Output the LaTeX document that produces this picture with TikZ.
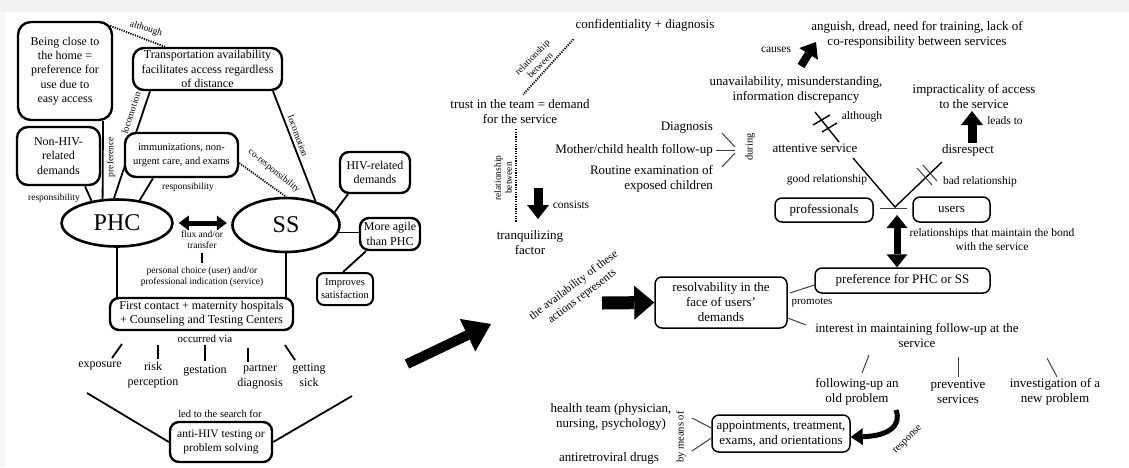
\documentclass[tikz,border=0pt]{standalone}
\usepackage{fontspec}
\setmainfont{Liberation Serif}
\usetikzlibrary{arrows.meta,shapes.geometric,calc}
\pgfdeclarelayer{bg}
\pgfsetlayers{bg,main}
\newcommand\myfs[2]{\fontsize{#1}{#2}\selectfont}
\begin{document}
\begin{tikzpicture}[x=1pt,y=-1pt,
  every node/.style={inner sep=0pt,align=center,font=\myfs{12}{14.3}},
  bx/.style={draw,fill=white,line width=2.4pt,rounded corners=9pt,inner sep=1pt},
  rbx/.style={draw,fill=white,line width=1.5pt,rounded corners=7pt,inner sep=1pt,font=\myfs{13}{15}},
  oval/.style={draw,fill=white,ellipse,line width=2.6pt,font=\myfs{24}{24}},
  sm/.style={font=\myfs{9.5}{11}},
  lb/.style={font=\myfs{11.5}{13}},
  rt/.style={font=\myfs{13}{15}},
  ln/.style={line width=1.8pt},
  lnr/.style={line width=1.4pt},
  thn/.style={line width=1pt,black!75},
  dotl/.style={line width=1.8pt,dash pattern=on 1.2pt off 1.2pt},
  dbl/.style={line width=5pt,{Triangle[length=10pt,width=15pt,line width=0pt]}-{Triangle[length=10pt,width=15pt,line width=0pt]}},
  dblv/.style={line width=7pt,{Triangle[length=13pt,width=21pt,line width=0pt]}-{Triangle[length=13pt,width=21pt,line width=0pt]}},
  medarr/.style={line width=9pt,-{Triangle[length=14pt,width=22pt,line width=0pt]}},
  fatarr/.style={line width=13pt,-{Triangle[length=20pt,width=34pt,line width=0pt]}},
  bigarr/.style={line width=10pt,-{Triangle[length=26pt,width=36pt,line width=0pt]}},
  resparr/.style={line width=5pt,-{Triangle[length=12pt,width=17pt,line width=0pt]}},
]
\useasboundingbox (0,0) rectangle (1129,467);

% ================= LEFT PART =================
\node[bx,minimum width=94pt,minimum height=98pt,rounded corners=13pt] (close) at (65,71) {Being close to\\the home =\\preference for\\use due to\\easy access};
\node[bx,minimum width=149pt,minimum height=42pt,rounded corners=11pt] (transp) at (207.5,69) {Transportation availability\\facilitates access regardless\\of distance};
\node[bx,minimum width=83pt,minimum height=58pt,rounded corners=11pt] (nonhiv) at (58.5,156) {Non-HIV-\\related\\demands};
\node[bx,minimum width=113pt,minimum height=44pt,rounded corners=11pt,font=\myfs{10.5}{13.5}] (immun) at (181.5,155) {immunizations, non-\\urgent care, and exams};
\node[oval,minimum width=111pt,minimum height=47pt] (phc) at (117,223) {PHC};
\node[oval,minimum width=107pt,minimum height=54pt] (ss) at (286,225) {SS};
\node[bx,minimum width=70pt,minimum height=41pt] (hiv) at (375,172.5) {HIV-related\\demands};
\node[bx,minimum width=60pt,minimum height=32pt] (agile) at (390,234) {More agile\\than PHC};
\node[bx,minimum width=56pt,minimum height=32pt,line width=2pt,rounded corners=7pt,font=\myfs{10.5}{13}] (impr) at (345,289) {Improves\\satisfaction};
\node[bx,minimum width=183pt,minimum height=32pt,font=\myfs{12}{14}] (first) at (201.5,314) {First contact + maternity hospitals\\+ Counseling and Testing Centers};
\node[bx,minimum width=102pt,minimum height=40pt,font=\myfs{11.5}{14}] (anti) at (221,442) {anti-HIV testing or\\problem solving};

\begin{pgfonlayer}{bg}
\fill[black!5] (0,0) rectangle (1129,12);
\fill[black!3] (0,12) rectangle (6,467);
\draw[ln] (150,0 |- transp.south) -- (phc.97);
\end{pgfonlayer}

\draw[ln] (273,0 |- transp.south) -- (ss.39);
\draw[dotl] ($(close.north east)+(-3,5)$) -- (165,0 |- transp.north);
\draw[ln] (103,0 |- close.south) -- (phc.121);
\draw[ln] (85,0 |- nonhiv.south) -- (phc.139);
\draw[ln] (153,0 |- immun.south) -- (phc.45);
\draw[dotl] (immun.east |- 0,163) -- (ss.north);
\draw[dbl] ($(phc.east)+(5,0)$) -- ($(phc.east)+(53,0)$);

\node[sm,rotate=-18] (lalth) at (146,29) {although};
\node[sm,rotate=72] (lloc1) at (131,113) {locomotion};
\node[sm,rotate=-70] (lloc2) at (298,136) {locomotion};
\node[sm,rotate=90] (lpref) at (111,157) {preference};
\node[sm] (lresp1) at (54,198) {responsibility};
\node[sm] (lresp2) at (188,187) {responsibility};
\node[sm,rotate=-39] (lcores) at (274,171) {co-responsibility};
\node[sm] (flux) at (202,240) {flux and/or\\transfer};
\node[sm] (choice) at (202,277) {personal choice (user) and/or\\professional indication (service)};
\draw[ln] ($(flux.south)+(0,4)$) -- ($(choice.north)+(0,-4)$);

\draw[ln] (phc.south) -- (phc.south |- first.north);
\draw[ln] (ss.south) -- (ss.south |- first.north);
\draw[ln] (ss.15) -- (348,0 |- hiv.south);
\draw[ln] (ss.352) -- (ss.352 -| agile.west);
\draw[ln] (366,0 |- agile.south) -- (343,0 |- impr.north);

\node[font=\myfs{11}{13}] (occ) at (205,339) {occurred via};
\node (expo) at (100,366) {exposure};
\node (risk) at (153,375) {risk\\perception};
\node (gest) at (205,371) {gestation};
\node (partner) at (260,377) {partner\\diagnosis};
\node (sick) at (309,375) {getting\\sick};
\draw[ln] (122,344) -- (112,358);
\draw[ln] (158,345) -- (158,359);
\draw[ln] (205,345) -- (205,361);
\draw[ln] (248,348) -- (248,362);
\draw[ln] (285,345) -- (295,360);
\node[font=\myfs{10.5}{12}] (led) at (220,414) {led to the search for};
\coordinate (antiL) at (87,393);
\coordinate (antiR) at (352,396);
\draw[ln] (antiL) -- (anti.west);
\draw[ln] (anti.east) -- (antiR);

% big arrow
\coordinate (bigA) at (407,364);
\coordinate (bigB) at (491,324);
\draw[bigarr] (bigA) -- (bigB);

% ================= RIGHT PART =================
\node[rt] (conf) at (645,25) {confidentiality + diagnosis};
\node[rt] (trust) at (520,112) {trust in the team = demand\\for the service};
\draw[dotl] ($(conf.south west)+(-2,8)$) -- ($(trust.north)+(3,-5)$);
\node[sm,rotate=45] (lrel1) at (536,61) {relationship\\between};
\node[rt] (tranq) at (530,243) {tranquilizing\\factor};
\draw[dotl] (516,0 |- trust.south) ++(0,5) -- (516,222);
\node[sm,rotate=90] (lrel2) at (503,178) {relationship\\between};
\draw[medarr] (538,188) -- (538,219);
\node[lb] (lcons) at (571,205) {consists};

\node[rt,anchor=east] (diag) at (713,128) {Diagnosis};
\node[rt,anchor=east] (mother) at (713,150) {Mother/child health follow-up};
\node[rt,anchor=east,align=right] (routine) at (713,179) {Routine examination of\\exposed children};
\draw[thn] (722,133) -- (735,147);
\draw[thn] (716,150) -- (735,150);
\draw[thn] (722,167) -- (735,153);
\node[font=\myfs{10.5}{12},rotate=90] (ldur) at (750,147) {during};

\node[rt] (ang) at (917,35) {anguish, dread, need for training, lack of\\co-responsibility between services};
\node[lb] (lcaus) at (776,50) {causes};
\draw[medarr,line width=8pt] (801,66) -- (816,42);
\node[rt] (unav) at (796,90) {unavailability, misunderstanding,\\information discrepancy};
\node[rt] (att) at (815,148) {attentive service};
\draw[lnr] (815,112) -- (839,142);
\draw[lnr] (813,125) -- (830,115);
\draw[lnr] (822,132) -- (837,123);
\node[lb] (lalth2) at (862,117) {although};
\node[rt] (imp) at (974,96) {impracticality of access\\to the service};
\node[rt] (dis) at (968,150) {disrespect};
\draw[medarr] (972,143) -- (972,111);
\node[lb] (llead) at (1005,121) {leads to};

\coordinate (j) at (895,207);
\draw[lnr] (853,158) -- (j) -- (942,162);
\draw[thn] (917,168) -- (932,185);
\draw[thn] (923,165) -- (937,181);
\node[lb] (lgood) at (827,180) {good relationship};
\node[lb] (lbad) at (980,182) {bad relationship};
\node[rbx,minimum width=98pt,minimum height=24pt] (prof) at (824,210) {professionals};
\node[rbx,minimum width=77pt,minimum height=25pt] (users) at (951.5,209.5) {users};
\draw[thn] (880,208) -- (907,208);
\node[rbx,minimum width=175pt,minimum height=25pt] (pref) at (902.5,280.5) {preference for PHC or SS};
\draw[dblv] (897,215) -- (897,0 |- pref.north);
\node[font=\myfs{11.5}{14}] (lbond) at (992,240) {relationships that maintain the bond\\with the service};

\node[rbx,minimum width=132pt,minimum height=51pt] (res) at (721,302.5) {resolvability in the\\face of users'\\demands};
\draw[fatarr] (602,303) -- (res.west);
\node[font=\myfs{11.5}{14},rotate=37] (lavail) at (578,291) {the availability of these\\actions represents};
\draw[thn] (790,293) -- (pref.west |- 0,285);
\node[font=\myfs{11}{13}] (lprom) at (812,303) {promotes};
\node[rt] (int) at (917,335) {interest in maintaining follow-up at the\\service};
\draw[thn] (res.east |- 0,318) -- (806,325);
\draw[thn] (869,355) -- (862,373);
\draw[thn] (958,357) -- (958,377);
\draw[thn] (1047,358) -- (1057,377);
\node[rt] (fol) at (857,392) {following-up an\\old problem};
\node[rt] (prev) at (958,392) {preventive\\services};
\node[rt] (inv) at (1055,392) {investigation of a\\new problem};

\node[rbx,minimum width=138pt,minimum height=37pt] (app) at (781,433.5) {appointments, treatment,\\exams, and orientations};
\node[rt] (health) at (611,417) {health team (physician,\\nursing, psychology)};
\node[rt] (arv) at (609,458) {antiretroviral drugs};
\node[font=\myfs{10.5}{12},rotate=90] (lmeans) at (681,437) {by means of};
\draw[thn] (692,418) -- (app.west |- 0,428);
\draw[thn] (692,451) -- (app.west |- 0,438);
\draw[resparr] (896,410) .. controls (902,426) and (888,436) .. (app.east |- 0,437);
\node[font=\myfs{10.5}{12},rotate=45] (lresp) at (908,440) {response};

\end{tikzpicture}
\end{document}
